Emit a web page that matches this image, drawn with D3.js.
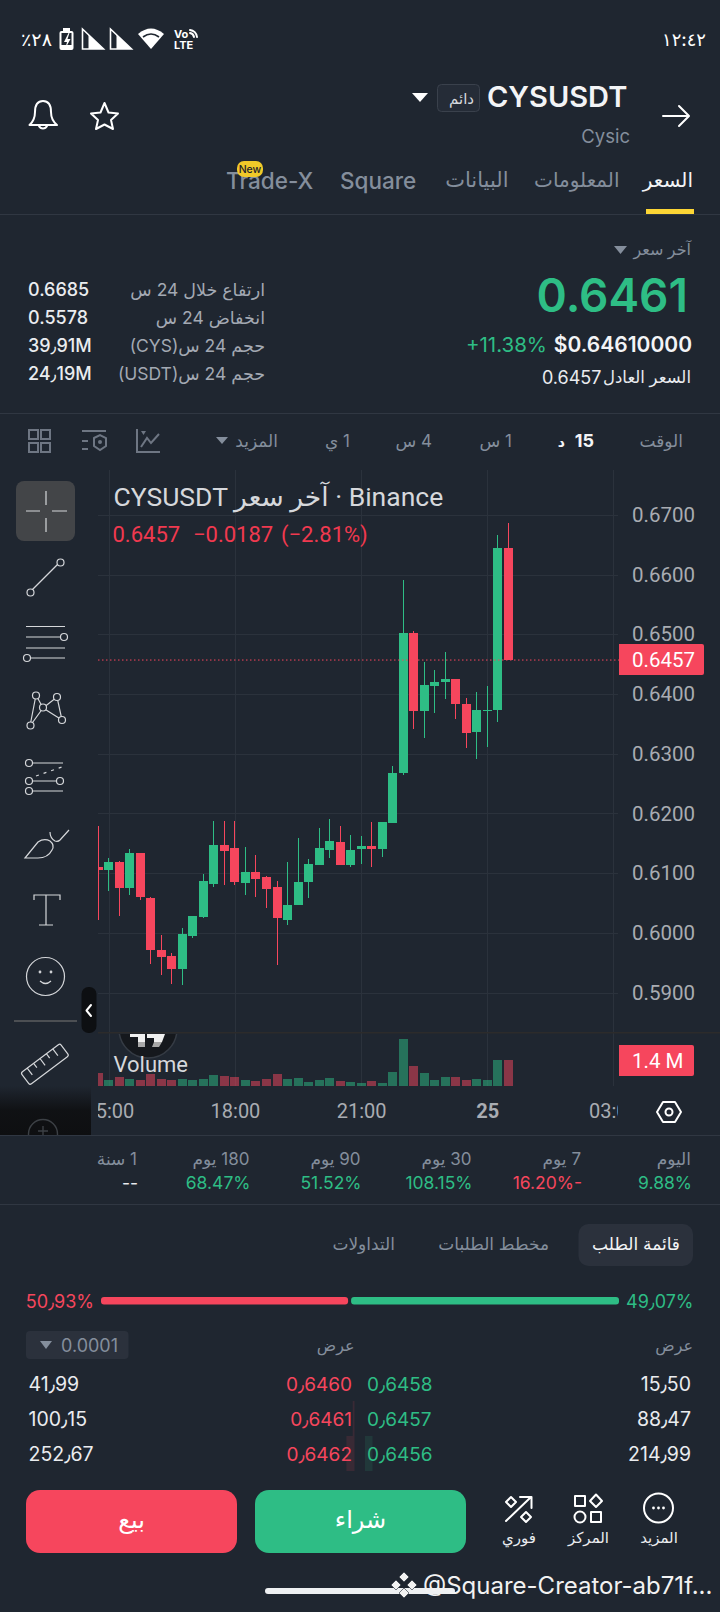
<!DOCTYPE html>
<html>
<head>
<meta charset="utf-8">
<script src="https://d3js.org/d3.v7.min.js"></script>
<style>
html, body { margin: 0; padding: 0; background: #1f2630; }
svg { display: block; }
text { font-family: Inter, "DejaVu Sans", sans-serif; }
.chart text { font-family: Roboto, "DejaVu Sans", sans-serif; }
.icon { fill: none; stroke: #fff; stroke-width: 2; stroke-linecap: round; stroke-linejoin: round; }
.tool { fill: none; stroke: #d5d7da; stroke-width: 1.2; }
</style>
</head>
<body>
<div id="app"></div>
<script>
// 15 minute candles, left to right
var candleOpen = [0.6110, 0.6105, 0.6118, 0.6075, 0.6133, 0.6058, 0.5971, 0.5961, 0.5939, 0.5994, 0.6026, 0.6081, 0.6147, 0.6142, 0.6083, 0.6102, 0.6093, 0.6076, 0.6021, 0.6046, 0.6085, 0.6113, 0.6139, 0.6152, 0.6113, 0.6140, 0.6145, 0.6140, 0.6184, 0.6267, 0.6502, 0.6371, 0.6413, 0.6420, 0.6425, 0.6383, 0.6336, 0.6373, 0.6373, 0.6644];
var candleHigh = [0.6179, 0.6125, 0.6120, 0.6140, 0.6133, 0.6060, 0.5996, 0.5966, 0.6008, 0.6028, 0.6098, 0.6187, 0.6187, 0.6187, 0.6144, 0.6130, 0.6095, 0.6087, 0.6118, 0.6159, 0.6123, 0.6175, 0.6190, 0.6179, 0.6164, 0.6162, 0.6185, 0.6185, 0.6279, 0.6591, 0.6505, 0.6453, 0.6441, 0.6470, 0.6426, 0.6394, 0.6403, 0.6413, 0.6666, 0.6686];
var candleLow = [0.6021, 0.6070, 0.6028, 0.6063, 0.6055, 0.5947, 0.5929, 0.5914, 0.5912, 0.5991, 0.6024, 0.6076, 0.6080, 0.6080, 0.6063, 0.6060, 0.6041, 0.5946, 0.6013, 0.6046, 0.6058, 0.6113, 0.6125, 0.6113, 0.6110, 0.6115, 0.6110, 0.6127, 0.6184, 0.6264, 0.6341, 0.6326, 0.6369, 0.6391, 0.6358, 0.6309, 0.6291, 0.6311, 0.6354, 0.6457];
var candleClose = [0.6105, 0.6118, 0.6075, 0.6133, 0.6060, 0.5971, 0.5959, 0.5939, 0.5998, 0.6028, 0.6087, 0.6147, 0.6137, 0.6085, 0.6102, 0.6090, 0.6073, 0.6024, 0.6046, 0.6085, 0.6115, 0.6142, 0.6154, 0.6113, 0.6139, 0.6145, 0.6140, 0.6185, 0.6267, 0.6502, 0.6371, 0.6415, 0.6421, 0.6426, 0.6383, 0.6334, 0.6374, 0.6374, 0.6644, 0.6457];
var candleVolume = [0.70, 0.32, 0.48, 0.38, 0.32, 0.65, 0.38, 0.32, 0.38, 0.32, 0.38, 0.59, 0.54, 0.48, 0.32, 0.27, 0.38, 0.65, 0.38, 0.43, 0.22, 0.32, 0.43, 0.27, 0.22, 0.16, 0.27, 0.16, 0.75, 2.53, 1.08, 0.70, 0.32, 0.48, 0.48, 0.32, 0.38, 0.32, 1.40, 1.40];

var priceTicks = [0.67, 0.66, 0.65, 0.64, 0.63, 0.62, 0.61, 0.60, 0.59];
var timeTickIndex = [1, 13, 25, 37, 49];
var timeTickLabels = ['15:00', '18:00', '21:00', '25', '03:00'];
var lastPrice = 0.6457;

var statLabels = ['ارتفاع خلال 24 س', 'انخفاض 24 س', 'حجم 24 س(CYS)', 'حجم 24 س(USDT)'];
var statValues = ['0.6685', '0.5578', '39٫91M', '24٫19M'];
var periodLabels = ['اليوم', '7 يوم', '30 يوم', '90 يوم', '180 يوم', '1 سنة'];
var periodValues = ['9.88%', '-16.20%', '108.15%', '51.52%', '68.47%', '--'];
var periodChange = [9.88, -16.20, 108.15, 51.52, 68.47, null];
var askQty = ['41٫99', '100٫15', '252٫67'];
var askPrice = ['0٫6460', '0٫6461', '0٫6462'];
var bidPrice = ['0٫6458', '0٫6457', '0٫6456'];
var bidQty = ['15٫50', '88٫47', '214٫99'];
var askDepth = [0, 0.1, 0.45];
var bidDepth = [0, 0, 0.42];
var sellBarShare = 47.7; // as drawn, the bar does not follow the 50.93 label

var W = 720, H = 1612;
var BG = '#1f2630', GREEN = '#2ebd85', RED = '#f6465d', GREY = '#848e9c', LIGHT = '#eaecef';
var LINE = '#303742', BOX = '#2b313c';

var svg = d3.select('#app').append('svg').attr('width', W).attr('height', H).attr('viewBox', '0 0 ' + W + ' ' + H);
svg.append('rect').attr('width', W).attr('height', H).attr('fill', BG);

function txt(g, x, y, s, size, color, anchor, weight) {
    return g.append('text').attr('x', x).attr('y', y).text(s)
        .attr('font-size', size).attr('fill', color)
        .attr('text-anchor', anchor || 'start').attr('font-weight', weight || 400);
}
// arabic text, x is the right edge
function rtl(g, x, y, s, size, color, weight) {
    return txt(g, x, y, s, size, color, 'start', weight).attr('direction', 'rtl');
}
function hline(y, x1, x2, color) {
    svg.append('rect').attr('x', x1 === undefined ? 0 : x1).attr('y', y)
        .attr('width', (x2 === undefined ? W : x2) - (x1 === undefined ? 0 : x1)).attr('height', 1).attr('fill', color || LINE);
}
function tri(x, y, w, h, color) {
    svg.append('path').attr('d', 'M' + x + ',' + y + 'h' + w + 'l' + (-w / 2) + ',' + h + 'z').attr('fill', color);
}

drawHeader();
drawPriceBlock();
drawChart();
drawToolbar();
drawPeriods();
drawOrderBook();
drawBottomBar();

function drawHeader() {
    var g = svg.append('g');
    // status bar
    txt(g, 21, 46, '٪٢٨', 18, '#fff', 'start', 500).attr('textLength', 31).attr('lengthAdjust', 'spacingAndGlyphs');
    g.append('rect').attr('x', 59.5).attr('y', 31).attr('width', 14).attr('height', 19).attr('rx', 2).attr('fill', '#fff');
    g.append('rect').attr('x', 63).attr('y', 28).attr('width', 7).attr('height', 3).attr('fill', '#fff');
    g.append('rect').attr('x', 61.5).attr('y', 33).attr('width', 10).attr('height', 12).attr('fill', BG);
    g.append('path').attr('d', 'M68.5,33l-4.5,9h3l-1.5,6l5,-9h-3l2,-6z').attr('fill', '#fff');
    [82.5, 110.5].forEach(function (x) {
        g.append('path').attr('d', 'M' + x + ',29v20h21z').attr('fill', 'none').attr('stroke', '#fff').attr('stroke-width', 1.6);
        g.append('path').attr('d', 'M' + (x + 6) + ',34.5V49H' + (x + 21) + 'z').attr('fill', '#fff');
    });
    g.append('path').attr('d', 'M138,34Q151,23 164,34L151,49z').attr('fill', '#fff');
    g.append('path').attr('d', 'M143,37Q151,31 159,37').attr('fill', 'none').attr('stroke', BG).attr('stroke-width', 1.6);
    txt(g, 174, 38, 'Vo', 11, '#fff', 'start', 700);
    txt(g, 174, 49, 'LTE', 11, '#fff', 'start', 700);
    g.append('path').attr('d', 'M190,30a8,8 0 0 1 7,7M190,33a5,5 0 0 1 4,4').attr('class', 'icon').attr('stroke-width', 1.2);
    txt(g, 706, 46, '١٢:٤٢', 18, '#fff', 'end', 500).attr('textLength', 44).attr('lengthAdjust', 'spacingAndGlyphs');

    // title row
    txt(g, 487, 107, 'CYSUSDT', 29, '#f3f4f6', 'start', 600);
    g.append('rect').attr('x', 437.5).attr('y', 84.5).attr('width', 42).attr('height', 27).attr('rx', 4).attr('fill', '#252c37').attr('stroke', '#3a414c');
    rtl(g, 474, 104, 'دائم', 15, '#d5d8dc');
    tri(412, 93, 16, 9, '#fff');
    txt(g, 630, 143, 'Cysic', 18.5, GREY, 'end');
    g.append('path').attr('class', 'icon').attr('d', 'M663,116H688M679,106L689,116L679,126');
    // bell and star
    g.append('path').attr('class', 'icon').attr('d', 'M29.5,125Q35,120 35,112Q35,101 43,101Q51,101 51,112Q51,120 57,125Z');
    g.append('path').attr('class', 'icon').attr('d', 'M39,126a4.5,4.5 0 0 0 8,0');
    g.append('path').attr('class', 'icon').attr('d', 'M104.5,103L108.5,112.5L118,113.5L111,120L113,129L104.5,124.5L96,129L98,120L91,113.5L100.5,112.5Z');

    // tabs
    rtl(g, 693, 187, 'السعر', 20, '#f3f4f6');
    rtl(g, 619.5, 187, 'المعلومات', 20, GREY);
    rtl(g, 508.5, 187, 'البيانات', 21, GREY);
    txt(g, 340, 189, 'Square', 22.5, GREY, 'start', 500);
    txt(g, 226, 189, 'Trade-X', 22.5, GREY, 'start', 500);
    g.append('rect').attr('x', 237).attr('y', 161).attr('width', 26).attr('height', 16).attr('rx', 7).attr('fill', '#f0c929');
    txt(g, 250, 173, 'New', 10.5, '#1e2329', 'middle', 500);
    g.append('rect').attr('x', 646).attr('y', 209).attr('width', 48).attr('height', 5).attr('fill', '#fcd535');
    hline(214);
}

function drawPriceBlock() {
    var g = svg.append('g');
    rtl(g, 691, 255, 'آخر سعر', 16, GREY);
    tri(614, 246, 13, 8, GREY);
    txt(g, 688, 312, '0.6461', 46, GREEN, 'end', 600);
    txt(g, 692, 352, '$0.64610000', 21, '#f3f4f6', 'end', 600);
    txt(g, 547, 352, '+11.38%', 20.5, GREEN, 'end');
    rtl(g, 691, 383, 'السعر العادل', 16.5, LIGHT);
    txt(g, 601.5, 384, '0.6457', 18, LIGHT, 'end');
    statLabels.forEach(function (s, i) {
        var y = 296 + i * 28;
        rtl(g, 265, y, s, 17.5, '#a3a9b3');
        txt(g, 28, y, statValues[i], 18, LIGHT, 'start', 500);
    });
    hline(413);

    // interval row
    rtl(g, 683, 447, 'الوقت', 17, GREY);
    txt(g, 594, 447, '15', 18, '#f3f4f6', 'end', 700);
    rtl(g, 565, 447, 'د', 14, '#f3f4f6', 700);
    rtl(g, 512, 447, '1 س', 17, GREY);
    rtl(g, 432, 447, '4 س', 17, GREY);
    rtl(g, 350, 447, '1 ي', 17, GREY);
    rtl(g, 278, 447, 'المزيد', 17, GREY);
    tri(216, 437, 12, 7, GREY);
    // small icons in the row
    var ic = svg.append('g').attr('fill', 'none').attr('stroke', '#6e7683').attr('stroke-width', 2);
    [[29, 430], [41, 430], [29, 443], [41, 443]].forEach(function (p) {
        ic.append('rect').attr('x', p[0]).attr('y', p[1]).attr('width', 9).attr('height', 9);
    });
    ic.append('path').attr('d', 'M82,431H106M82,441H88M82,449H88');
    ic.append('path').attr('d', 'M94,438L100,435L106,438V446L100,450L94,446Z');
    ic.append('circle').attr('cx', 100).attr('cy', 442).attr('r', 2).attr('fill', '#6e7683').attr('stroke', 'none');
    ic.append('path').attr('d', 'M137,429V452H160M141,447L147,438L151,443L159,434');
    ic.append('path').attr('d', 'M141,431h5l-2.5,4z').attr('fill', '#6e7683').attr('stroke', 'none');
}

function drawChart() {
    var plotLeft = 98, plotRight = 618, plotTop = 470, plotBottom = 1086;
    var root = svg.append('g').attr('class', 'chart');

    var x = d3.scaleLinear().domain([0, 39]).range([98.3, 508.3]);
    var y = d3.scaleLinear().domain([0.59, 0.67]).range([992.5, 515]);
    var yVol = d3.scaleLinear().domain([0, 1.4]).range([1086, 1060]);
    svg.append('clipPath').attr('id', 'plot').append('rect')
        .attr('x', plotLeft).attr('y', plotTop).attr('width', plotRight - plotLeft).attr('height', 1130 - plotTop);

    // gridlines come from the axes' own ticks
    var gridY = root.append('g').attr('transform', 'translate(' + plotLeft + ',0)')
        .call(d3.axisRight(y).tickValues(priceTicks).tickSize(plotRight - plotLeft).tickFormat(''));
    gridY.select('.domain').remove();
    gridY.selectAll('line').attr('stroke', '#2b323c').attr('shape-rendering', 'crispEdges');

    var gridX = root.append('g').attr('transform', 'translate(0,' + plotBottom + ')')
        .call(d3.axisTop(x).tickValues(timeTickIndex).tickSize(plotBottom - plotTop).tickFormat(''));
    gridX.select('.domain').remove();
    gridX.selectAll('line').attr('stroke', '#2b323c').attr('shape-rendering', 'crispEdges');

    // logo behind the volume label
    svg.append('clipPath').attr('id', 'logoClip').append('rect').attr('x', 98).attr('y', 1034).attr('width', 120).attr('height', 40);
    var logo = root.append('g').attr('clip-path', 'url(#logoClip)');
    logo.append('circle').attr('cx', 148).attr('cy', 1029).attr('r', 29).attr('fill', '#15181d').attr('stroke', '#353b44').attr('stroke-width', 1.5);
    logo.append('rect').attr('x', 130).attr('y', 1034).attr('width', 15).attr('height', 3).attr('fill', '#f0f0f0');
    logo.append('rect').attr('x', 138).attr('y', 1034).attr('width', 7).attr('height', 8).attr('fill', '#f0f0f0');
    logo.append('rect').attr('x', 138).attr('y', 1042).attr('width', 7).attr('height', 5).attr('fill', '#a8a8a8');
    logo.append('path').attr('d', 'M147,1034h18l-3,8h-8v-4h-7z').attr('fill', '#f0f0f0');
    logo.append('path').attr('d', 'M154,1042h8l-3,5h-7z').attr('fill', '#a8a8a8');

    root.append('rect').attr('x', 98).attr('y', 1032).attr('width', W - 98).attr('height', 1.5).attr('fill', '#2c2b2b');
    var idx = d3.range(candleOpen.length);
    var plot = root.append('g').attr('clip-path', 'url(#plot)');

    // volume
    plot.selectAll('rect.vol').data(idx).enter().append('rect')
        .attr('class', 'vol')
        .attr('x', function (i) { return Math.floor(x(i)) - 4; })
        .attr('width', 9)
        .attr('y', function (i) { return yVol(candleVolume[i]); })
        .attr('height', function (i) { return 1086 - yVol(candleVolume[i]); })
        .attr('fill', function (i) { return candleClose[i] >= candleOpen[i] ? GREEN : RED; })
        .attr('opacity', 0.5)
        .attr('shape-rendering', 'crispEdges');

    // wicks and bodies
    plot.selectAll('rect.wick').data(idx).enter().append('rect')
        .attr('class', 'wick')
        .attr('x', function (i) { return Math.floor(x(i)); })
        .attr('width', 1)
        .attr('y', function (i) { return y(candleHigh[i]); })
        .attr('height', function (i) { return y(candleLow[i]) - y(candleHigh[i]); })
        .attr('fill', function (i) { return candleClose[i] >= candleOpen[i] ? GREEN : RED; })
        .attr('shape-rendering', 'crispEdges');
    plot.selectAll('rect.body').data(idx).enter().append('rect')
        .attr('class', 'body')
        .attr('x', function (i) { return Math.floor(x(i)) - 4; })
        .attr('width', 9)
        .attr('y', function (i) { return y(Math.max(candleOpen[i], candleClose[i])); })
        .attr('height', function (i) { return Math.max(1, Math.abs(y(candleOpen[i]) - y(candleClose[i]))); })
        .attr('fill', function (i) { return candleClose[i] >= candleOpen[i] ? GREEN : RED; })
        .attr('shape-rendering', 'crispEdges');

    // last price line
    root.append('line').attr('x1', plotLeft).attr('x2', 619).attr('y1', y(lastPrice)).attr('y2', y(lastPrice))
        .attr('stroke', RED).attr('stroke-width', 1).attr('stroke-dasharray', '1.5 2.5');

    // price axis
    var axisY = root.append('g').attr('transform', 'translate(632,0)')
        .call(d3.axisRight(y).tickValues(priceTicks).tickSize(0).tickPadding(0).tickFormat(d3.format('.4f')));
    axisY.select('.domain').remove();
    axisY.selectAll('text').attr('font-size', 20.5).attr('fill', '#a9acb2').attr('font-family', 'Roboto');

    root.append('path').attr('d', 'M619,' + (y(lastPrice) - 16) + 'h83a2,2 0 0 1 2,2v27a2,2 0 0 1 -2,2h-83z').attr('fill', RED);
    txt(root, 632, y(lastPrice) + 7, d3.format('.4f')(lastPrice), 20.5, '#fff');
    root.append('path').attr('d', 'M619,1045h73a2,2 0 0 1 2,2v27a2,2 0 0 1 -2,2h-73z').attr('fill', RED);
    txt(root, 632, 1068, '1.4 M', 20.5, '#fff');

    // time axis, clipped the way the chart clips it
    var axisX = root.append('g').attr('clip-path', 'url(#plot)').append('g').attr('transform', 'translate(0,1104)')
        .call(d3.axisBottom(x).tickValues(timeTickIndex).tickSize(0).tickPadding(0).tickFormat(function (d, i) { return timeTickLabels[i]; }));
    axisX.select('.domain').remove();
    axisX.selectAll('text').attr('font-size', 20).attr('fill', '#a9acb2').attr('font-family', 'Roboto')
        .attr('font-weight', function (d) { return d === 37 ? 700 : 400; });

    // legend
    txt(root, 113.5, 506, 'CYSUSDT \u200Eآخر سعر\u200E · Binance', 26.5, '#d6d8dc');
    txt(root, 112.5, 542, '0.6457', 22, '#f0394f');
    txt(root, 193, 542, '\u22120.0187', 22, '#f0394f');
    txt(root, 281, 542, '(\u22122.81%)', 22, '#f0394f');
    txt(root, 113.5, 1071.5, 'Volume', 22, '#d6d8dc');

    // settings hexagon
    svg.append('path').attr('class', 'icon').attr('stroke', '#e6e8ea').attr('d', 'M657,1112L663,1102H675L681,1112L675,1122H663Z').attr('stroke-width', 1.6);
    svg.append('circle').attr('class', 'icon').attr('stroke-width', 1.6).attr('cx', 669).attr('cy', 1112).attr('r', 3.5);
}

function drawToolbar() {
    var g = svg.append('g');
    g.append('rect').attr('x', 16).attr('y', 481).attr('width', 59).attr('height', 60).attr('rx', 8).attr('fill', '#434548');
    var t = g.append('g').attr('class', 'tool').attr('stroke-width', 1.4);
    t.append('path').attr('d', 'M46,491V505M46,518V532M26,511H40M52,511H67');
    function dot(x, y, r) { t.append('circle').attr('cx', x).attr('cy', y).attr('r', r || 3.5).attr('fill', BG); }
    // line
    t.append('path').attr('d', 'M30,592L60,562');
    dot(30.5, 592.5); dot(60.5, 562.5);
    // fib
    t.append('path').attr('d', 'M26,626.5H65M26,637H62M26,648H65M30,658H65');
    dot(64, 637); dot(27, 658);
    // pattern
    t.append('path').attr('d', 'M36,695L30,726L43,708L36,695M43,708L57,697L62,720L43,708M30,726L36,695');
    dot(36, 695.5); dot(57, 697); dot(43, 707.5); dot(30.5, 725.5); dot(62, 720);
    // parallel
    t.append('path').attr('d', 'M33,763H63M33,781H56M33,791H63');
    t.append('path').attr('d', 'M36,776L62,767').attr('stroke-dasharray', '3 5');
    dot(29, 763); dot(29, 781); dot(60, 781); dot(29, 791);
    // brush
    t.append('path').attr('d', 'M25,858L38,842Q44,838 50,841Q55,845 52,850Q48,858 38,858Z');
    t.append('path').attr('d', 'M50,832Q50,838 55,841Q58,842 60,840L69,830');
    // text tool
    t.append('path').attr('d', 'M34,900V895H60V900M46,895V925M39,925H53');
    // smiley
    t.append('ellipse').attr('cx', 45.5).attr('cy', 976.5).attr('rx', 19).attr('ry', 19);
    t.append('circle').attr('cx', 40).attr('cy', 972).attr('r', 0.8);
    t.append('circle').attr('cx', 51).attr('cy', 972).attr('r', 0.8);
    t.append('path').attr('d', 'M40,981Q45.5,986 51,981');
    g.append('rect').attr('x', 14).attr('y', 1020).attr('width', 63).attr('height', 2).attr('fill', '#4c4f53');
    // ruler
    var r = t.append('g').attr('transform', 'rotate(-37 45.5 1065)');
    r.append('rect').attr('x', 21).attr('y', 1056.5).attr('width', 49).attr('height', 15).attr('rx', 2);
    d3.range(5).forEach(function (i) {
        r.append('line').attr('x1', 29 + i * 8).attr('x2', 29 + i * 8).attr('y1', 1056.5).attr('y2', i % 2 ? 1062 : 1065);
    });
    // collapse handle
    g.append('rect').attr('x', 81.5).attr('y', 987).attr('width', 15).attr('height', 46).attr('rx', 7).attr('fill', '#0d0f12');
    g.append('path').attr('class', 'icon').attr('stroke-width', 1.6).attr('d', 'M91,1005L86.5,1010.5L91,1016');
    // dark block in the corner
    var grad = svg.append('linearGradient').attr('id', 'corner').attr('x1', 0).attr('x2', 0).attr('y1', 0).attr('y2', 1);
    grad.append('stop').attr('offset', 0).attr('stop-color', '#0e0f11').attr('stop-opacity', 0);
    grad.append('stop').attr('offset', 0.5).attr('stop-color', '#0e0f11').attr('stop-opacity', 0.9);
    grad.append('stop').attr('offset', 1).attr('stop-color', '#0e0f11');
    g.append('rect').attr('x', 0).attr('y', 1086).attr('width', 91).attr('height', 49).attr('fill', 'url(#corner)');
    svg.append('clipPath').attr('id', 'corner2').append('rect').attr('x', 0).attr('y', 1086).attr('width', 91).attr('height', 49);
    var pl = g.append('g').attr('clip-path', 'url(#corner2)').attr('fill', 'none').attr('stroke', '#3c4045').attr('stroke-width', 1.4);
    pl.append('circle').attr('cx', 43).attr('cy', 1134).attr('r', 14.5);
    pl.append('path').attr('d', 'M43,1126V1135M38,1131H48');
    hline(1135);
}

function drawPeriods() {
    var g = svg.append('g');
    var rights = [691, 581, 471.5, 360.5, 249.5, 137];
    periodLabels.forEach(function (s, i) {
        rtl(g, rights[i], 1165, s, 17, GREY);
        var c = periodChange[i] === null ? LIGHT : (periodChange[i] < 0 ? RED : GREEN);
        var v = periodValues[i];
        if (periodChange[i] !== null && periodChange[i] < 0) { v = Math.abs(periodChange[i]).toFixed(2) + '%-'; }
        txt(g, rights[i] + 1, 1189, v, 17.5, c, 'end');
    });
    hline(1204);
}

function drawOrderBook() {
    var g = svg.append('g');
    g.append('rect').attr('x', 578.5).attr('y', 1224).attr('width', 114.5).attr('height', 42).attr('rx', 10).attr('fill', BOX);
    rtl(g, 680, 1250, 'قائمة الطلب', 17, '#f3f4f6');
    rtl(g, 549, 1250, 'مخطط الطلبات', 17, GREY);
    rtl(g, 395, 1250, 'التداولات', 17, GREY);

    // buy and sell share bar
    var share = d3.scaleLinear().domain([0, 100]).range([101, 619]);
    g.append('rect').attr('x', share(0)).attr('y', 1297).attr('width', share(sellBarShare) - share(0)).attr('height', 7.5).attr('rx', 3).attr('fill', RED);
    g.append('rect').attr('x', share(sellBarShare) + 3).attr('y', 1297).attr('width', 619 - share(sellBarShare) - 3).attr('height', 7.5).attr('rx', 3).attr('fill', GREEN);
    txt(g, 94, 1308, '50٫93%', 18, RED, 'end');
    txt(g, 626, 1308, '49٫07%', 18, GREEN);

    g.append('rect').attr('x', 26).attr('y', 1331).attr('width', 102.5).attr('height', 28).attr('rx', 4).attr('fill', BOX);
    tri(40, 1341, 12, 8, GREY);
    txt(g, 61, 1352, '0.0001', 18, GREY);
    rtl(g, 354.5, 1351, 'عرض', 16, GREY);
    rtl(g, 693, 1351, 'عرض', 16, GREY);

    var depth = d3.scaleLinear().domain([0, 1]).range([0, 18]);
    askPrice.forEach(function (s, i) {
        var y = 1391 + i * 35;
        g.append('rect').attr('x', 354.5 - depth(askDepth[i])).attr('y', y - 25).attr('width', depth(askDepth[i])).attr('height', 35).attr('fill', RED).attr('opacity', 0.12);
        g.append('rect').attr('x', 365).attr('y', y - 25).attr('width', depth(bidDepth[i])).attr('height', 35).attr('fill', GREEN).attr('opacity', 0.12);
        txt(g, 28.5, y, askQty[i], 19.5, LIGHT);
        txt(g, 352, y, s, 19, RED, 'end');
        txt(g, 367, y, bidPrice[i], 19, GREEN);
        txt(g, 691, y, bidQty[i], 19.5, LIGHT, 'end');
    });
}

function drawBottomBar() {
    var g = svg.append('g');
    g.append('rect').attr('x', 26).attr('y', 1490).attr('width', 211).attr('height', 63).attr('rx', 14).attr('fill', RED);
    g.append('rect').attr('x', 255).attr('y', 1490).attr('width', 211).attr('height', 63).attr('rx', 14).attr('fill', GREEN);
    txt(g, 131.5, 1528, 'بيع', 24, '#fff', 'middle', 400);
    txt(g, 360.5, 1528, 'شراء', 24, '#fff', 'middle', 400);

    // more
    g.append('circle').attr('class', 'icon').attr('cx', 658.5).attr('cy', 1508).attr('r', 14.5);
    [-5, 0, 5].forEach(function (d) { g.append('circle').attr('cx', 658.5 + d).attr('cy', 1508).attr('r', 1.4).attr('fill', '#fff'); });
    txt(g, 659, 1543, 'المزيد', 15, '#eaecef', 'middle');
    // position
    g.append('rect').attr('class', 'icon').attr('x', 575).attr('y', 1496).attr('width', 10).attr('height', 10);
    g.append('path').attr('class', 'icon').attr('d', 'M596,1494.5L602,1501L596,1507L590,1501Z');
    g.append('circle').attr('class', 'icon').attr('cx', 580).attr('cy', 1517).attr('r', 5.5);
    g.append('rect').attr('class', 'icon').attr('x', 591).attr('y', 1512).attr('width', 10).attr('height', 10);
    txt(g, 588.5, 1543, 'المركز', 15, '#eaecef', 'middle');
    // instant
    g.append('path').attr('class', 'icon').attr('d', 'M506,1521L531,1497M520,1497H531.5V1508');
    g.append('path').attr('class', 'icon').attr('d', 'M511,1497L516,1502L511,1507L506,1502Z');
    g.append('path').attr('class', 'icon').attr('d', 'M526,1512L531,1517L526,1522L521,1517Z');
    txt(g, 519, 1543, 'فوري', 15, '#eaecef', 'middle');

    // home bar and watermark
    g.append('rect').attr('x', 265).attr('y', 1588).attr('width', 190).attr('height', 6).attr('rx', 3).attr('fill', '#eef0f2');
    var w = g.append('g').attr('fill', '#f2f2f2').attr('stroke', BG).attr('stroke-width', 0.6);
    [[404, 1577], [396, 1585], [412, 1585], [404, 1593]].forEach(function (p) {
        w.append('path').attr('d', 'M' + p[0] + ',' + (p[1] - 5) + 'l5,5l-5,5l-5,-5z');
    });
    txt(g, 423, 1594, '@Square-Creator-ab71f...', 24, '#f2f2f2').attr('font-family', 'Roboto');
}
</script>
</body>
</html>
